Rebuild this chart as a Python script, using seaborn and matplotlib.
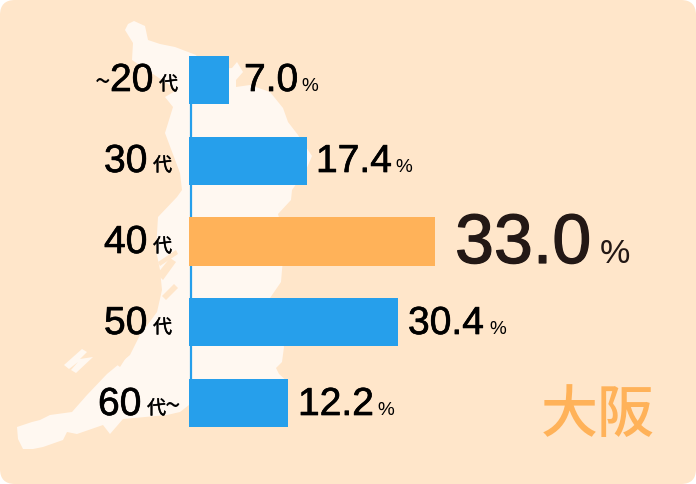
import matplotlib
matplotlib.use("Agg")
import matplotlib.pyplot as plt
from matplotlib.patches import FancyBboxPatch, Polygon
import matplotlib.patheffects as pe
import pandas as pd
import seaborn as sns

ages = ["~20代", "30代", "40代", "50代", "60代~"]
shares = ["7.0", "17.4", "33.0", "30.4", "12.2"]
# the printed bars are not proportional to the printed shares: lengths read in px
bar_lengths = [40, 118, 246, 209, 99]
bar_colors = ["#269FEB", "#269FEB", "#FFB259", "#269FEB", "#269FEB"]
region = "大阪"

BG, LAND, BLUE, ORANGE = "#FFE6CA", "#FFF8F1", "#269FEB", "#FFB259"
NUM = "Liberation Sans"
CJK = "Noto Sans CJK JP"

sns.set_theme(style="white")
fig = plt.figure(figsize=(6.96, 4.84), dpi=100, facecolor="white")

# background layer in pixel coordinates
bg = fig.add_axes([0, 0, 1, 1])
bg.set_xlim(0, 696); bg.set_ylim(484, 0); bg.axis("off")
bg.add_patch(FancyBboxPatch((14, 14), 668, 456, boxstyle="round,pad=14,rounding_size=15", fc=BG, ec="none", lw=0))
land = [(125,30),(128,24),(134,21),(145,26),(148,40),(160,44),(175,47),(196,55),(205,70),(232,68),(237,62),
        (243,72),(236,80),(236,87),(250,85),(270,92),(283,108),(288,122),(298,135),(312,156),(306,170),(292,190),
        (291,200),(278,214),(285,240),(282,270),(281,282),(270,298),(284,347),(282,362),(276,368),(279,374),(288,382),
        (288,400),(189,405),(180,412),(167,415),(123,419),(110,434),(103,425),(77,434),(67,432),(63,440),(43,447),
        (33,449),(23,449),(18,439),(17,427),(32,422),(40,420),(50,415),(72,412),(87,395),(107,374),(130,355),
        (140,335),(157,312),(162,290),(160,270),(156,250),(158,217),(177,197),(182,190),(180,173),(165,133),(173,107),
        (165,97),(177,90),(132,60),(133,43)]
bg.add_patch(Polygon(land, fc=LAND, ec="none"))
bg.add_patch(Polygon([(64,365),(82,349),(87,352),(80,359),(93,357),(76,373),(71,370),(78,362),(69,369)], fc=LAND, ec="none"))
for pts in ([(157,274),(170,258),(176,262),(163,280)],
            [(162,296),(174,284),(178,288),(166,300)],
            [(146,292),(152,288),(156,291),(150,297)],
            [(116,364),(128,347),(131,350),(120,367)],
            [(158,262),(176,250),(178,254),(160,266)]):
    bg.add_patch(Polygon(pts, fc=BG, ec="none"))

# bars: x unit = 1 px from the baseline at x=189; categories 80.75 px apart
ax = fig.add_axes([0, 0, 1, 1])
ax.patch.set_alpha(0)
df = pd.DataFrame({"age": ages, "length": bar_lengths})
sns.barplot(data=df, y="age", x="length", hue="age", palette=bar_colors, dodge=False,
            width=0.6, legend=False, orient="h", ax=ax, saturation=1, linewidth=0, edgecolor="none")
ax.set_xlim(-189, 507)
ax.set_ylim(484 / 80.75 - 80 / 80.75, -80 / 80.75)
ax.axis("off")
ax.plot([1.5, 1.5], [0, 4], color=BLUE, lw=1.6, zorder=0.5)

def piece(x, y, s, px, fam=NUM, color="black", stroke=0.0):
    t = ax.text(x, y, s, transform=bg.transData, fontsize=px * 0.72, family=fam, color=color,
                ha="left", va="baseline", zorder=5)
    if stroke:
        t.set_path_effects([pe.withStroke(linewidth=stroke, foreground=color)])

piece(95, 91, "~", 28, CJK)
for (xn, yb, s) in [(110, 91, "20"), (104, 172, "30"), (104, 253, "40"), (104, 334, "50"), (98, 415, "60")]:
    piece(xn, yb, s, 39, stroke=0.5)
for (xd, yb) in [(159, 90), (153, 171), (153, 252), (153, 333), (147, 414)]:
    piece(xd, yb, "代", 19, CJK, stroke=0.3)
piece(165, 415, "~", 28, CJK)

val_pos = [(244, 91, 39, 301, 19), (316, 172, 39, 395, 19), (455, 263, 70, 600, 34),
           (408, 334, 39, 489, 19), (298, 415, 39, 377, 19)]
for s, (xv, yb, px, xp, pp) in zip(shares, val_pos):
    col = "#231815" if px > 40 else "black"
    piece(xv, yb, s, px, color=col, stroke=0.9 if px > 40 else 0.5)
    piece(xp, yb, "%", pp, color=col)

ax.text(541, 432, region, transform=bg.transData, fontsize=57 * 0.72, family=CJK, color=ORANGE,
        weight="medium", ha="left", va="baseline", zorder=5)

fig.savefig("out.png", dpi=100, facecolor="white")
